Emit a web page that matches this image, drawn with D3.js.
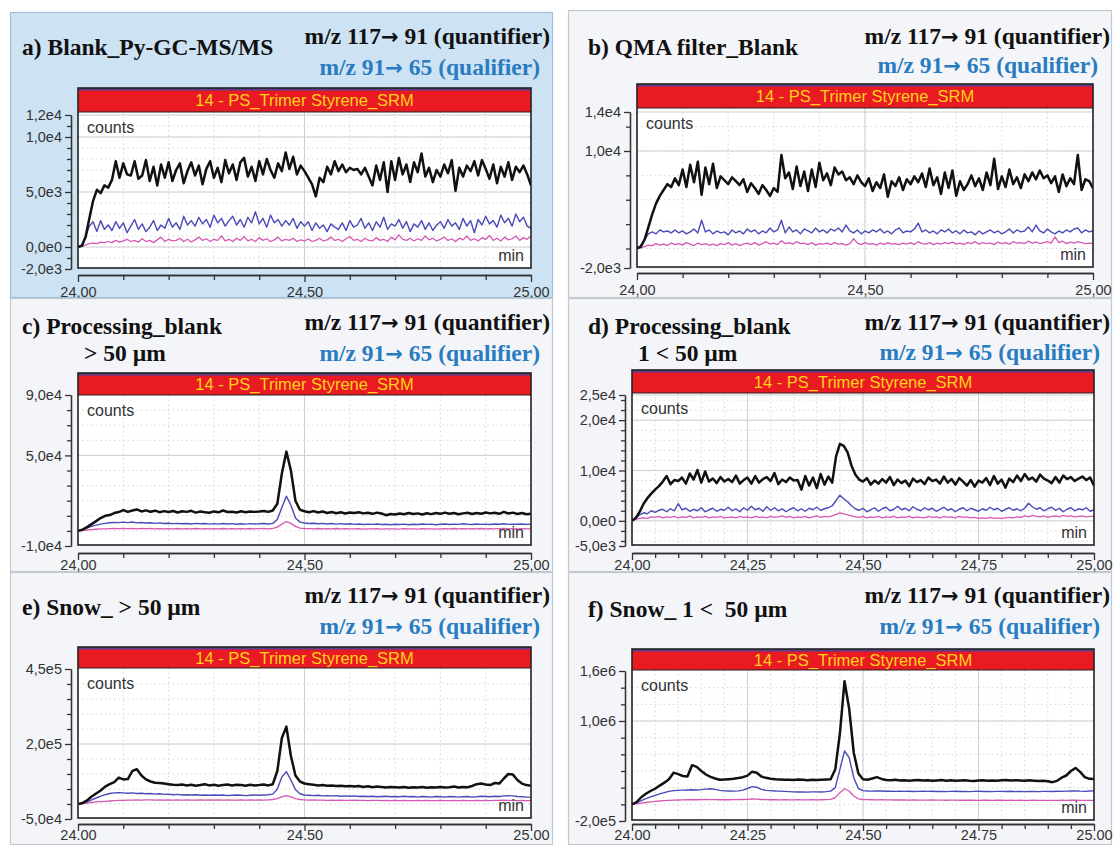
<!DOCTYPE html>
<html><head><meta charset="utf-8">
<script src="https://cdn.jsdelivr.net/npm/d3@7/dist/d3.min.js"></script>
<style>
html,body{margin:0;padding:0;background:#fff;}
svg text{font-family:"Liberation Sans",Arial,sans-serif;}
.ttl{font-family:"Liberation Serif","Times New Roman",serif;font-weight:bold;font-size:23.5px;white-space:pre;}
.arr{font-family:"DejaVu Sans",sans-serif;font-weight:bold;font-size:21px;}
</style></head>
<body>
<svg id="chart" width="1114" height="845"></svg>
<script>
// ---------------- DATA (counts in thousands) ----------------
const timeStart = 24.0, timeEnd = 25.0;
const headerText = "14 - PS_Trimer Styrene_SRM";
const quantParts = ["m/z 117", "\u2192", " 91 (quantifier)"];
const qualParts = ["m/z 91", "\u2192", " 65 (qualifier)"];

// a) Blank_Py-GC-MS/MS
const aBlack = [0,0.1,0.9,2.6,4.2,5.2,4.9,5.6,5.4,6.1, 7.8,6.3,7.6,6.6,6.5,7.8,6.2,6.5,7.9,6.0, 7.3,5.6,7.5,6.3,7.7,6.0,7.0,7.6,5.8,6.9, 7.7,6.5,7.4,5.7,7.1,7.8,6.3,7.2,5.9,7.9, 6.7,7.5,6.1,7.7,8.1,6.4,7.3,6.0,7.8,6.6, 8.0,7.0,6.3,7.6,6.9,8.6,7.1,8.2,6.6,7.4, 6.9,6.3,5.7,4.6,6.3,5.9,7.3,6.6,7.8,6.9, 7.5,6.8,7.2,7.0,7.1,6.6,7.2,6.4,5.6,7.4, 6.1,7.7,5.0,7.8,6.1,8.1,6.6,7.5,5.9,7.7, 6.8,8.5,6.4,7.2,5.9,7.0,6.4,7.5,6.7,7.9, 5.1,7.2,6.4,7.4,6.9,7.8,6.5,7.9,7.1,6.2, 7.5,5.8,7.3,6.4,7.7,6.1,7.3,6.8,7.4,6.6,5.6];
const aBlue = [0,0.2,0.9,1.9,2.3,1.4,2.4,1.6,2.0,1.5, 2.3,1.7,2.2,1.3,1.9,2.5,1.6,2.1,1.4,1.8, 2.4,1.5,2.0,1.7,2.6,1.8,2.2,1.6,2.8,2.0, 2.4,1.9,2.7,2.1,2.5,1.8,2.9,2.2,2.6,1.9, 2.4,2.8,2.0,2.5,1.8,2.7,2.2,3.2,2.1,2.6, 1.8,2.9,2.2,2.5,1.9,2.4,2.0,2.6,1.7,2.3, 1.9,2.3,1.5,2.2,1.7,2.0,1.4,2.1,1.8,1.6, 2.2,1.5,2.4,1.8,2.0,2.6,1.7,2.2,1.5,2.3, 1.8,2.7,1.6,2.1,1.9,2.5,1.7,2.3,1.4,2.1, 1.8,2.4,1.6,2.2,1.5,2.0,2.3,1.7,2.5,1.9, 2.2,1.6,2.6,1.9,2.4,1.3,2.5,2.0,2.8,2.1, 2.4,1.8,2.9,2.2,2.6,1.9,3.0,2.3,2.7,1.9,1.7];
const aPink = [0,0.05,0.2,0.3,0.35,0.3,0.45,0.4,0.5,0.4, 0.6,0.45,0.55,0.7,0.5,0.6,0.45,0.75,0.5,0.6, 0.4,0.65,0.9,0.5,0.7,0.55,0.6,0.8,0.5,0.7, 0.45,0.65,0.9,0.6,0.75,0.5,0.7,0.6,1.0,0.55, 0.7,0.5,0.8,0.6,0.95,0.55,0.7,0.5,0.85,0.6, 0.75,0.5,0.65,0.9,0.55,0.7,0.6,0.8,0.5,0.65, 0.55,0.75,0.5,0.6,0.8,0.55,0.65,0.9,0.6,0.7, 0.5,0.75,0.95,0.6,0.7,0.5,0.8,0.6,0.55,0.85, 0.6,0.7,0.5,0.9,0.65,1.1,0.7,0.6,0.8,0.55, 0.75,0.6,1.0,0.65,0.8,0.55,0.7,0.9,0.6,0.75, 0.5,0.8,0.65,1.0,0.6,0.75,0.55,0.85,0.7,1.05, 0.6,0.8,0.55,0.9,0.65,0.75,1.0,0.6,0.85,0.7,1.0];

// b) QMA filter_Blank
const bBlack = [0,0.2,0.9,2.2,3.5,4.6,5.4,6.0,6.6,6.3, 7.2,6.5,8.1,6.3,8.6,6.8,8.9,5.5,8.3,6.6, 8.7,6.2,7.4,7.0,6.6,7.3,6.9,6.5,7.1,5.8, 6.7,6.2,5.6,6.5,6.0,5.4,6.2,5.8,9.6,7.2, 7.8,6.1,8.4,6.4,7.9,5.9,8.1,6.3,8.8,7.0, 7.7,6.5,8.3,7.6,7.9,7.0,7.3,6.6,7.5,6.8, 6.4,7.2,5.9,6.8,6.2,7.6,5.3,6.9,6.4,7.3, 6.0,7.1,6.6,7.4,6.8,7.7,6.3,8.2,6.5,7.3, 5.6,7.8,6.2,8.0,5.4,6.9,6.0,6.6,7.5,6.4, 7.2,6.0,7.8,6.5,9.2,6.1,7.4,6.3,8.1,6.6, 7.3,6.2,7.6,6.9,7.8,7.1,8.0,7.2,7.5,6.7, 7.4,5.8,7.6,6.4,7.2,6.6,9.6,6.0,7.1,6.9,6.2];
const bBlue = [0,0.3,0.9,1.5,1.7,1.5,1.9,1.7,1.8,1.6, 1.9,1.6,1.8,1.5,1.7,2.0,1.6,2.9,1.7,1.9, 1.5,1.8,1.6,1.7,1.4,1.9,1.6,1.8,1.5,2.0, 1.7,1.9,1.5,1.8,1.6,2.1,1.7,1.9,2.9,1.6, 2.2,1.7,1.9,1.5,2.0,1.8,1.6,2.1,1.7,1.9, 1.6,2.0,1.8,2.1,1.7,2.4,1.8,1.6,1.9,1.5, 1.8,1.6,1.9,1.7,2.0,1.6,1.8,1.5,1.9,2.1, 1.6,1.8,1.7,2.0,2.6,1.7,1.9,1.6,1.8,1.5, 1.9,1.7,2.0,1.6,1.8,1.5,1.9,1.6,1.7,1.4, 1.8,1.5,1.7,1.9,1.6,1.8,1.5,1.7,2.0,1.6, 1.9,1.7,1.8,2.2,1.7,2.4,1.8,1.6,2.0,1.7, 1.5,1.8,1.6,1.9,1.7,2.0,2.1,1.6,1.9,1.7,1.8];
const bPink = [0,0.05,0.2,0.35,0.3,0.5,0.35,0.45,0.3,0.55, 0.4,0.5,0.35,0.6,0.45,0.3,0.55,0.4,0.5,0.35, 0.45,0.3,0.5,0.4,0.6,0.35,0.5,0.3,0.45,0.55, 0.4,0.6,0.35,0.5,0.7,0.45,0.55,0.4,0.8,0.5, 0.6,0.45,0.7,0.5,0.55,0.4,0.6,0.35,0.5,0.45, 0.55,0.4,0.6,0.45,0.5,0.35,0.5,1.0,0.55,0.4, 0.6,0.45,0.5,0.35,0.55,0.4,0.6,0.45,0.5,0.4, 0.55,0.45,0.6,0.4,0.7,0.5,0.45,0.6,0.4,0.55, 0.45,0.6,0.5,0.65,0.45,0.55,0.4,0.6,0.5,0.7, 0.45,0.6,0.5,0.55,0.4,0.65,0.5,0.6,0.45,0.7, 0.55,0.6,0.5,0.75,0.55,0.65,0.5,0.6,0.7,0.55, 1.2,0.6,0.75,0.5,0.65,0.55,0.7,0.6,0.5,0.55,0.5];

// c) Processing_blank > 50 µm
const cBlack = [0,0.8,2.5,4.5,6.5,8.5,10.0,10.5,11.8,12.5, 13.8,12.6,13.5,14.2,12.9,13.6,12.7,13.4,12.4,13.1, 12.5,13.2,12.2,13.0,12.6,13.3,12.1,12.8,12.4,12.0, 12.9,12.3,13.5,12.5,12.7,12.2,13.0,12.4,12.9,12.6, 12.8,13.2,12.6,13.5,18.0,38.0,52.5,40.0,20.0,14.0, 13.0,12.4,13.1,12.2,12.8,11.9,12.5,11.7,12.3,11.5, 12.2,11.8,12.4,11.6,12.0,11.3,12.1,11.5,10.4,11.2, 10.8,11.5,11.0,11.8,11.2,11.6,10.9,11.7,11.1,11.9, 11.3,12.1,11.4,11.8,11.0,11.6,12.0,11.2,11.9,11.4, 12.2,11.6,12.0,11.3,12.6,11.5,12.1,11.2,11.8,11.0,11.3];
const cBlue = [0,0.8,2.0,3.0,3.8,4.5,5.0,5.4,5.6,5.5, 5.8,5.5,5.9,5.3,5.6,5.2,5.4,5.0,5.3,4.9, 5.1,4.8,5.0,4.7,4.9,4.6,5.0,4.7,4.9,4.5, 4.8,4.5,4.9,4.6,4.8,4.4,4.7,4.5,4.8,4.6, 4.7,4.9,4.6,5.0,7.5,15.5,23.0,17.0,8.5,5.8, 5.2,4.9,5.1,4.7,5.0,4.6,4.9,4.5,4.8,4.4, 4.7,4.3,4.6,4.2,4.5,4.3,4.6,4.2,4.4,4.1, 4.4,4.2,4.5,4.1,4.4,4.2,4.6,4.3,4.5,4.1, 4.4,4.6,4.2,4.5,4.3,4.7,4.4,4.2,4.6,4.3, 4.5,4.2,4.6,4.4,4.7,4.3,4.5,4.4,4.6,4.3,4.4];
const cPink = [0,0.3,0.6,0.9,1.1,1.3,1.4,1.5,1.6,1.5, 1.7,1.5,1.6,1.4,1.7,1.5,1.6,1.4,1.5,1.3, 1.5,1.4,1.6,1.3,1.5,1.4,1.6,1.3,1.5,1.4, 1.5,1.3,1.6,1.4,1.5,1.3,1.5,1.4,1.6,1.4, 1.5,1.6,1.4,1.7,2.5,4.5,6.2,5.0,3.0,1.9, 1.6,1.5,1.4,1.6,1.3,1.5,1.4,1.6,1.3,1.5, 1.4,1.3,1.5,1.2,1.4,1.3,1.5,1.2,1.4,1.3, 1.4,1.2,1.5,1.3,1.4,1.2,1.5,1.3,1.4,1.2, 1.4,1.5,1.3,1.6,1.4,1.5,1.3,1.5,1.4,1.6, 1.4,1.5,1.3,1.5,1.6,1.4,1.5,1.3,1.5,1.4,1.5];

// d) Processing_blank 1 < 50 µm
const dBlack = [0,0.6,1.8,3.4,4.5,5.4,6.2,6.9,7.8,8.9, 7.3,8.1,7.9,8.6,7.4,9.4,8.2,10.1,7.6,9.8, 7.8,8.4,7.5,8.7,7.8,8.3,7.7,9.0,7.4,8.1, 8.6,7.4,8.9,7.6,8.3,8.7,7.9,9.5,7.3,8.2, 7.7,8.6,8.0,8.1,6.2,8.9,7.0,8.6,6.5,9.3, 7.2,8.8,7.6,12.8,15.3,14.9,13.6,11.0,9.2,8.2, 7.8,8.5,7.2,8.0,7.4,8.3,7.6,8.7,7.1,8.2, 7.5,8.0,6.9,8.4,7.7,8.1,7.3,8.6,7.9,8.2, 7.4,8.8,7.6,8.3,7.2,8.5,7.8,7.0,8.1,6.8, 8.0,7.6,8.5,7.1,8.9,7.4,8.2,6.6,8.4,7.7, 9.0,7.9,9.3,8.2,8.6,7.8,9.2,8.4,8.0,7.5, 8.7,7.6,9.0,8.3,8.7,7.9,8.4,8.8,8.1,8.6,7.0];
const dBlue = [0,0.5,1.2,1.6,1.4,2.0,1.7,2.1,2.3,1.8, 2.4,2.0,3.4,2.2,2.5,1.9,2.3,2.0,2.6,1.8, 2.2,2.5,1.9,2.3,2.1,2.7,2.0,2.4,1.8,2.6, 2.1,2.9,2.2,2.5,1.9,2.8,2.1,2.6,2.0,2.4, 1.8,2.3,2.6,2.0,2.4,1.9,2.5,2.2,2.7,2.1, 2.4,2.6,3.0,4.0,5.1,4.4,3.8,3.0,2.4,2.1, 2.5,1.8,2.2,2.6,1.9,2.4,2.7,2.0,2.3,2.9, 2.2,2.5,2.0,2.8,2.3,2.0,2.6,2.2,2.5,1.9, 2.3,2.7,2.1,2.4,1.8,2.3,2.6,2.0,2.5,2.2, 1.9,2.4,2.1,2.7,2.2,2.5,1.9,2.3,2.6,2.1, 2.4,2.0,2.5,3.5,2.8,2.3,2.6,2.0,2.4,2.7, 2.1,2.5,1.8,2.3,2.6,2.0,2.4,2.2,2.6,1.9,2.2];
const dPink = [0,0.3,0.5,0.6,0.5,0.8,0.7,0.9,0.6,0.8, 0.7,0.9,0.6,0.8,0.7,1.0,0.6,0.8,0.7,0.9, 0.6,0.8,0.7,0.9,0.6,0.7,0.8,0.6,0.9,0.7, 0.8,0.6,0.9,0.7,0.8,0.6,0.9,0.7,0.8,1.0, 0.7,0.9,0.6,0.8,0.7,0.9,0.6,0.8,1.0,0.7, 0.9,0.8,1.0,1.3,1.6,1.4,1.2,1.0,0.8,0.7, 0.9,0.6,0.8,0.7,0.9,0.6,0.8,0.7,0.9,0.6, 0.8,0.7,0.9,0.6,0.8,0.7,0.6,0.9,0.7,0.8, 0.6,0.9,0.7,0.8,0.6,0.9,0.7,0.8,0.6,0.7, 0.5,0.6,0.5,0.7,0.5,0.6,0.5,0.6,0.7,0.6, 0.8,0.7,1.0,0.8,1.1,0.9,0.8,1.0,0.7,0.9, 1.0,0.8,1.1,0.9,1.0,0.8,0.9,1.0,0.8,0.9,0.9];

// e) Snow_ > 50 µm
const eBlack = [0,3,12,25,35,45,58,66,73,88, 82,83,110,116,95,82,75,71,70,68, 66,64,63,65,62,64,61,63,66,62, 64,61,63,65,62,64,63,61,64,62, 63,65,62,66,110,220,258,160,95,75, 68,66,64,62,63,61,62,60,61,59, 60,58,60,57,59,56,58,57,55,57, 56,55,57,54,56,55,57,54,56,55, 57,55,56,58,55,57,56,60,66,68, 65,63,70,68,85,100,98,80,68,63,61];
const eBlue = [0,2,7,14,20,26,31,35,37,38, 37,36,37,35,36,34,35,33,34,32, 33,31,32,30,31,30,31,29,30,29, 30,29,30,28,29,30,29,28,29,30, 29,30,31,33,50,90,108,80,48,34, 30,29,28,29,27,28,27,28,26,27, 26,27,25,26,25,26,24,25,26,24, 25,24,26,24,25,23,25,24,23,25, 24,23,25,24,23,24,25,23,24,26, 25,24,26,25,27,28,27,25,24,23,23];
const ePink = [0,1,3,5,7,8,9,10,11,12, 12,13,13,14,13,14,14,13,14,13, 14,13,14,13,14,13,13,14,13,14, 13,14,13,14,13,13,14,13,14,13, 14,13,14,15,18,24,28,24,18,15, 14,13,14,13,13,12,13,12,13,12, 12,13,12,12,11,12,12,11,12,11, 12,11,12,11,11,12,11,12,11,11, 12,11,11,12,11,12,11,11,12,11, 12,11,12,12,13,12,12,11,12,11,11];

// f) Snow_ 1 < 50 µm
const fBlack = [0,28,85,127,160,187,225,260,300,380, 362,340,335,470,450,400,358,330,310,295, 298,302,306,315,326,345,392,380,334,318, 306,300,298,294,296,292,298,294,290,296, 292,295,298,300,420,850,1478,1150,620,370, 300,296,310,326,305,292,288,294,286,290, 284,288,292,285,290,283,287,291,284,288, 282,286,290,284,280,286,288,283,287,282, 288,292,285,290,286,282,288,284,280,284, 278,266,282,320,346,400,437,390,326,306,304];
const fBlue = [0,18,45,68,90,108,125,140,155,165, 168,170,172,175,172,176,182,187,180,168, 162,160,158,162,170,190,212,205,180,168, 165,160,158,155,152,150,148,150,147,149, 150,148,152,158,200,420,640,560,320,190, 165,160,158,162,160,157,159,156,158,155, 157,154,156,158,155,157,154,156,153,155, 157,154,156,153,155,158,154,156,153,155, 156,154,157,153,155,152,154,156,153,155, 156,154,157,155,158,160,162,158,156,160,162];
const fPink = [0,6,15,22,30,36,40,44,48,50, 52,54,55,56,55,57,58,57,56,55, 56,55,56,57,58,60,64,62,58,56, 55,56,54,55,53,54,55,53,54,55, 54,55,56,60,80,140,187,160,100,66, 58,56,55,54,55,53,54,52,53,52, 51,52,50,51,50,52,50,51,49,50, 50,49,51,49,50,48,50,49,48,50, 49,48,50,48,49,47,48,49,47,48, 48,47,48,49,48,50,49,48,47,48,48];

// tick values / labels (thousands of counts)
const aYTicks = [12,10,5,0,-2], aYLabels = ["1,2e4","1,0e4","5,0e3","0,0e0","-2,0e3"];
const bYTicks = [14,10,-2], bYLabels = ["1,4e4","1,0e4","-2,0e3"];
const cYTicks = [90,50,-10], cYLabels = ["9,0e4","5,0e4","-1,0e4"];
const dYTicks = [25,20,10,0,-5], dYLabels = ["2,5e4","2,0e4","1,0e4","0,0e0","-5,0e3"];
const eYTicks = [450,200,-50], eYLabels = ["4,5e5","2,0e5","-5,0e4"];
const fYTicks = [1600,1000,-200], fYLabels = ["1,6e6","1,0e6","-2,0e5"];
const halfXTicks = [24,24.5,25];
const quarterXTicks = [24,24.25,24.5,24.75,25];
const aXLabels = ["24,00","24,50","25,00"];
const dXLabels = ["24,00","24,25","24,50","24,75","25,00"];
const eXLabels = ["24.00","24.50","25.00"];
const fXLabels = ["24.00","24.25","24.50","24.75","25.00"];

// ---------------- LAYOUT ----------------
const panels = [
 {box:[10,12,553,298], bg:"#cde3f4", border:"#9fbfdc",
  titles:[{t:"a) Blank_Py-GC-MS/MS",x:22,y:55}], qx:550, qy:44, lx:540, ly:75,
  L:78,R:531,hT:88,hB:112,B:268, yR:[269,115], yD:[-2,12], yT:aYTicks, yL:aYLabels, yMinorStep:1,
  xT:halfXTicks, xL:aXLabels, xMinorStep:0.1, axY:275, xPad:5, s:[aPink,aBlue,aBlack]},
 {box:[568,10,1112,298], bg:"#f3f5f8", border:"#c3c9d0",
  titles:[{t:"b) QMA filter_Blank",x:588,y:55}], qx:1110, qy:44, lx:1098, ly:73,
  L:637,R:1093,hT:84,hB:108,B:267, yR:[268,112], yD:[-2,14], yT:bYTicks, yL:bYLabels, yMinorStep:2.5,
  xT:halfXTicks, xL:aXLabels, xMinorStep:0.1, axY:273, xPad:5, s:[bPink,bBlue,bBlack]},
 {box:[10,298,553,572], bg:"#f3f5f8", border:"#c3c9d0",
  titles:[{t:"c) Processing_blank",x:22,y:334},{t:"> 50 \u00b5m",x:84,y:361}], qx:550, qy:330, lx:540, ly:361,
  L:78,R:531,hT:373,hB:395,B:545, yR:[546,395], yD:[-10,90], yT:cYTicks, yL:cYLabels, yMinorStep:10,
  xT:halfXTicks, xL:aXLabels, xMinorStep:0.1, axY:553, xPad:0, s:[cPink,cBlue,cBlack]},
 {box:[568,298,1112,572], bg:"#f3f5f8", border:"#c3c9d0",
  titles:[{t:"d) Processing_blank",x:588,y:334},{t:"1 < 50 \u00b5m",x:638,y:361}], qx:1110, qy:330, lx:1100, ly:360,
  L:632,R:1094,hT:370,hB:393,B:545, yR:[546,395], yD:[-5,25], yT:dYTicks, yL:dYLabels, yMinorStep:2,
  xT:quarterXTicks, xL:dXLabels, xMinorStep:0.05, axY:553, xPad:0, s:[dPink,dBlue,dBlack]},
 {box:[10,572,553,845], bg:"#f3f5f8", border:"#c3c9d0",
  titles:[{t:"e) Snow_ > 50 \u00b5m",x:22,y:615}], qx:550, qy:603, lx:540, ly:634,
  L:78,R:531,hT:647,hB:668,B:818, yR:[819,669], yD:[-50,450], yT:eYTicks, yL:eYLabels, yMinorStep:50,
  xT:halfXTicks, xL:eXLabels, xMinorStep:0.1, axY:824, xPad:-1, s:[ePink,eBlue,eBlack]},
 {box:[568,572,1112,845], bg:"#f3f5f8", border:"#c3c9d0",
  titles:[{t:"f) Snow_ 1 <\u00a0 50 \u00b5m",x:588,y:617}], qx:1110, qy:603, lx:1100, ly:634,
  L:632,R:1094,hT:649,hB:670,B:820, yR:[821,671], yD:[-200,1600], yT:fYTicks, yL:fYLabels, yMinorStep:200,
  xT:quarterXTicks, xL:fXLabels, xMinorStep:0.05, axY:824, xPad:-1, s:[fPink,fBlue,fBlack]}
];
const seriesStyle = [
  {color:"#d558b3", width:1.3},
  {color:"#4a4ab8", width:1.4},
  {color:"#111111", width:2.5}
];

const svg = d3.select("#chart");
svg.append("rect").attr("width",1114).attr("height",845).attr("fill","#ffffff");

function titleWithArrow(g, parts, x, yy, color) {
  const t = g.append("text").attr("class","ttl").attr("x",x).attr("y",yy).attr("text-anchor","end").attr("fill",color);
  t.append("tspan").text(parts[0]);
  t.append("tspan").attr("class","arr").text(parts[1]);
  t.append("tspan").text(parts[2]);
}

panels.forEach((p,pi) => {
  const g = svg.append("g");
  const [bx0,by0,bx1,by1] = p.box;
  g.append("rect").attr("x",bx0+0.5).attr("y",by0+0.5).attr("width",bx1-bx0-1).attr("height",by1-by0-1)
    .attr("fill",p.bg).attr("stroke",p.border).attr("stroke-width",1.2);

  // titles
  p.titles.forEach(t => g.append("text").attr("class","ttl").attr("x",t.x).attr("y",t.y).attr("fill","#111").text(t.t));
  titleWithArrow(g, quantParts, p.qx, p.qy, "#111");
  titleWithArrow(g, qualParts, p.lx, p.ly, "#2a7cc0");

  const x = d3.scaleLinear().domain([timeStart,timeEnd]).range([p.L,p.R]);
  const y = d3.scaleLinear().domain(p.yD).range(p.yR);

  // plot background
  g.append("rect").attr("x",p.L).attr("y",p.hB).attr("width",p.R-p.L).attr("height",p.B-p.hB).attr("fill","#ffffff");

  const yMinor = d3.range(Math.ceil(p.yD[0]/p.yMinorStep)*p.yMinorStep, p.yD[1]+1e-9, p.yMinorStep);
  const xMinor = d3.range(timeStart, timeEnd+1e-9, p.xMinorStep);
  const inY = v => y(v) > p.hB+1 && y(v) < p.B-1;
  const inX = v => x(v) > p.L+1 && x(v) < p.R-1;

  // grid
  const grid = g.append("g");
  grid.selectAll(".gym").data(yMinor.filter(inY)).join("line")
    .attr("x1",p.L).attr("x2",p.R).attr("y1",d=>y(d)).attr("y2",d=>y(d))
    .attr("stroke","#d6d6d6").attr("stroke-width",1).attr("stroke-dasharray","1.5,3");
  grid.selectAll(".gxm").data(xMinor.filter(inX)).join("line")
    .attr("x1",d=>x(d)).attr("x2",d=>x(d)).attr("y1",p.hB).attr("y2",p.B)
    .attr("stroke","#d6d6d6").attr("stroke-width",1).attr("stroke-dasharray","1.5,3");
  grid.selectAll(".gyM").data(p.yT.filter(inY)).join("line")
    .attr("x1",p.L).attr("x2",p.R).attr("y1",d=>y(d)).attr("y2",d=>y(d))
    .attr("stroke","#cfcfcf").attr("stroke-width",1);
  grid.selectAll(".gxM").data(p.xT.filter(inX)).join("line")
    .attr("x1",d=>x(d)).attr("x2",d=>x(d)).attr("y1",p.hB).attr("y2",p.B)
    .attr("stroke","#cfcfcf").attr("stroke-width",1);

  // clip
  const cid = "clip"+pi;
  svg.append("clipPath").attr("id",cid).append("rect").attr("x",p.L).attr("y",p.hB).attr("width",p.R-p.L).attr("height",p.B-p.hB);

  // series
  const lines = g.append("g").attr("clip-path",`url(#${cid})`);
  p.s.forEach((arr,si) => {
    const n = arr.length;
    const tScale = d3.scaleLinear().domain([0,n-1]).range([timeStart,timeEnd]);
    const line = d3.line().x((d,i)=>x(tScale(i))).y(d=>y(d));
    lines.append("path").datum(arr).attr("d",line).attr("fill","none")
      .attr("stroke",seriesStyle[si].color).attr("stroke-width",seriesStyle[si].width)
      .attr("stroke-linejoin","round");
  });

  // counts / min labels
  g.append("text").attr("x",p.L+9).attr("y",p.hB+21).attr("font-size","16px").attr("fill","#333").text("counts");
  g.append("text").attr("x",p.R-7).attr("y",p.B-7).attr("text-anchor","end").attr("font-size","16px").attr("fill","#333").text("min");

  // header
  g.append("rect").attr("x",p.L).attr("y",p.hT).attr("width",p.R-p.L).attr("height",p.hB-p.hT).attr("fill","#ea1a22");
  g.append("rect").attr("x",p.L).attr("y",p.hT).attr("width",p.R-p.L).attr("height",2.5).attr("fill","#5b3f8f");
  g.append("text").attr("x",(p.L+p.R)/2).attr("y",(p.hT+p.hB)/2+6).attr("text-anchor","middle")
    .attr("font-size","16.5px").attr("fill","#ffd21a").text(headerText);
  g.append("line").attr("x1",p.L).attr("x2",p.R).attr("y1",p.hB).attr("y2",p.hB).attr("stroke","#222").attr("stroke-width",1.2);
  // frame
  g.append("rect").attr("x",p.L).attr("y",p.hT).attr("width",p.R-p.L).attr("height",p.B-p.hT)
    .attr("fill","none").attr("stroke","#222").attr("stroke-width",1.6);

  // y axis
  const axX = p.L-7;
  const yMaj = g.append("g").attr("transform",`translate(${axX},0)`)
    .call(d3.axisLeft(y).tickValues(p.yT).tickFormat((d,i)=>p.yL[i]).tickSize(6).tickSizeOuter(0).tickPadding(3));
  const yMin = g.append("g").attr("transform",`translate(${axX},0)`)
    .call(d3.axisLeft(y).tickValues(yMinor.filter(v=>!p.yT.includes(v))).tickFormat("").tickSize(4).tickSizeOuter(0));
  [yMaj,yMin].forEach(a => {
    a.selectAll("path,line").attr("stroke","#333").attr("stroke-width",1.3);
    a.selectAll("text").attr("font-size","14.5px").attr("fill","#333").attr("font-family","Liberation Sans, Arial, sans-serif");
  });

  // x axis
  const xMaj = g.append("g").attr("transform",`translate(0,${p.axY})`)
    .call(d3.axisBottom(x).tickValues(p.xT).tickFormat((d,i)=>p.xL[i]).tickSize(7).tickSizeOuter(0).tickPadding(p.xPad));
  const xMin = g.append("g").attr("transform",`translate(0,${p.axY})`)
    .call(d3.axisBottom(x).tickValues(xMinor.filter(v=>!p.xT.some(t=>Math.abs(t-v)<1e-6))).tickFormat("").tickSize(5).tickSizeOuter(0));
  [xMaj,xMin].forEach(a => {
    a.selectAll("path,line").attr("stroke","#333").attr("stroke-width",1.3);
    a.selectAll("text").attr("font-size","14.5px").attr("fill","#333").attr("font-family","Liberation Sans, Arial, sans-serif");
  });
});
</script>
</body></html>
